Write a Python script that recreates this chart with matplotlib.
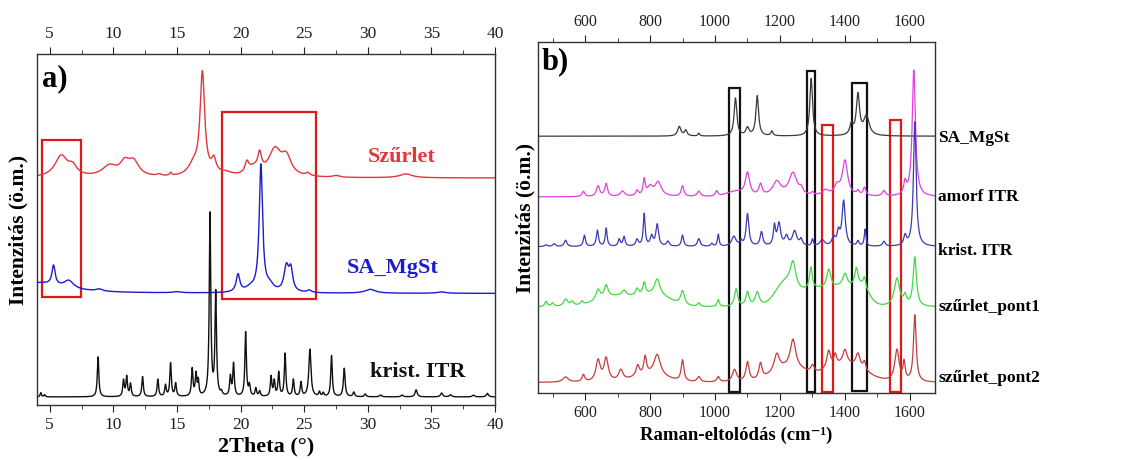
import numpy as np
import matplotlib
matplotlib.use("Agg")
import matplotlib.pyplot as plt
from matplotlib.patches import Rectangle
from matplotlib.ticker import MultipleLocator

plt.rcParams['font.family'] = ['Liberation Serif', 'DejaVu Serif']

############ a) XRD, peaks: (position, height, half width)

xrd_offsets = [64.7, 31.8, 2.3]          # Szűrlet, SA_MgSt, krist. ITR
szurlet_peaks = [(5.9, 6.0, 0.6), (6.8, 2.5, 0.4), (9.7, 3.0, 0.7), (10.9, 3.5, 0.45),
                 (11.6, 4.0, 0.5), (14.5, 0.8, 0.1), (13.6, 0.5, 0.2), (16.3, 3.0, 0.5),
                 (17.0, 29.0, 0.22), (17.9, 4.0, 0.22), (18.8, 1.0, 0.6), (20.5, 3.0, 0.18),
                 (21.0, 2.0, 0.5), (21.5, 5.0, 0.18), (22.7, 7.5, 0.6), (23.6, 5.0, 0.45),
                 (25.3, 0.8, 0.2), (27.5, 0.5, 0.3), (33.0, 1.1, 0.6)]
mgst_peaks = [(4.0, 3.0, 2.5), (5.3, 5.5, 0.15), (6.5, 2.2, 0.45), (8.9, 0.6, 0.3),
              (15.0, 0.3, 0.4), (19.8, 5.0, 0.17), (20.8, 1.2, 0.5), (21.6, 36.0, 0.16),
              (22.3, 1.8, 0.35), (23.6, 7.0, 0.22), (23.95, 6.0, 0.18), (25.4, 0.7, 0.2),
              (30.2, 1.1, 0.5), (35.8, 0.4, 0.4)]
itr_peaks = [(4.3, 1.2, 0.06), (4.6, 0.6, 0.06), (8.8, 11.4, 0.07), (10.8, 4.6, 0.07),
             (11.05, 5.6, 0.07), (11.35, 3.6, 0.07), (12.3, 5.7, 0.07), (13.5, 4.9, 0.07),
             (14.1, 3.2, 0.07), (14.5, 9.5, 0.07), (14.9, 3.7, 0.07), (16.2, 7.8, 0.07),
             (16.5, 6.2, 0.07), (16.68, 4.2, 0.06), (17.6, 52.0, 0.07), (18.05, 29.3, 0.07),
             (18.5, 1.0, 0.07), (19.2, 5.5, 0.07), (19.45, 9.2, 0.07), (20.4, 18.3, 0.07),
             (20.7, 3.0, 0.07), (21.2, 2.3, 0.07), (21.5, 1.5, 0.07), (22.4, 5.6, 0.07),
             (22.65, 4.3, 0.07), (23.0, 6.8, 0.07), (23.5, 12.2, 0.07), (24.15, 4.8, 0.07),
             (24.75, 4.0, 0.07), (25.45, 13.5, 0.1), (26.2, 1.3, 0.07), (26.5, 1.0, 0.07),
             (27.15, 11.7, 0.07), (28.15, 8.1, 0.08), (28.9, 1.3, 0.08), (29.8, 0.8, 0.08),
             (31.0, 0.5, 0.1), (32.7, 0.5, 0.1), (33.8, 2.0, 0.1), (35.8, 1.1, 0.1),
             (36.5, 0.6, 0.1), (38.3, 0.5, 0.1), (39.4, 1.0, 0.1)]
xrd_names = ['Szűrlet', 'SA_MgSt', 'krist. ITR']
xrd_label_xy = [(32.7, 70.7), (32.0, 39.0), (33.9, 9.4)]
xrd_boxes = [(4.37, 7.46, 30.8, 75.5), (18.53, 25.95, 30.2, 83.6)]

############ b) Raman: sharp bands (position, height, half width), broad humps (position, height, sigma)

raman_offsets = [73.2, 55.9, 41.7, 24.5, 3.0]
sa_peaks = [(890, 2.7, 6), (910, 1.6, 5), (950, 0.8, 3), (1063, 10.8, 5), (1100, 2.2, 6),
            (1130, 11.4, 5), (1175, 1.3, 4), (1296, 16.4, 5), (1420, 3.0, 6),
            (1440, 11.5, 6), (1466, 5.5, 10)]
amorf_peaks = [(595, 1.5, 5), (640, 3.0, 6), (665, 3.6, 5), (715, 1.5, 8), (760, 1.5, 5),
               (782, 4.5, 4), (800, 2.5, 10), (825, 4.0, 12), (900, 3.0, 5), (950, 1.5, 6),
               (1005, 1.5, 5), (1100, 6.5, 8), (1140, 3.2, 6), (1190, 4.0, 15),
               (1240, 6.5, 15), (1265, 1.5, 6), (1300, 0.8, 4), (1340, 1.5, 12),
               (1375, 2.5, 10), (1400, 10.0, 10), (1440, 1.2, 5), (1460, 2.3, 5),
               (1520, 1.5, 6), (1585, 3.5, 5), (1612, 36.0, 6)]
amorf_humps = [(1060, 1.3, 25)]
krist_peaks = [(480, 0.5, 5), (505, 0.8, 5), (540, 1.8, 5), (598, 3.2, 4), (638, 4.6, 4),
               (665, 5.2, 3.5), (705, 2.0, 4), (720, 2.7, 4), (760, 1.9, 5), (782, 9.2, 3.5),
               (805, 2.8, 5), (822, 6.2, 5), (855, 1.4, 5), (900, 3.2, 4), (950, 2.2, 5),
               (990, 0.8, 4), (1010, 3.4, 3), (1058, 2.8, 8), (1080, 1.3, 4),
               (1100, 9.2, 5), (1143, 4.0, 5), (1183, 5.5, 4), (1197, 6.3, 6),
               (1220, 2.6, 6), (1245, 4.2, 8), (1265, 1.8, 5), (1300, 1.9, 3),
               (1330, 1.8, 8), (1365, 2.3, 6), (1380, 3.6, 5), (1396, 12.8, 6),
               (1440, 1.4, 4), (1462, 4.8, 3), (1520, 1.4, 5), (1585, 2.8, 5),
               (1615, 35.5, 5)]
pont1_peaks = [(480, 1.5, 5), (500, 1.0, 5), (540, 2.0, 8), (560, 1.2, 6), (590, 1.0, 5),
               (640, 3.0, 8), (665, 3.5, 7), (720, 1.5, 8), (760, 2.0, 6), (782, 3.5, 5),
               (822, 4.5, 10), (900, 4.0, 7), (950, 1.0, 5), (1010, 2.0, 4),
               (1065, 5.0, 6), (1100, 4.0, 6), (1130, 4.0, 8), (1240, 7.0, 10),
               (1295, 6.0, 5), (1350, 5.5, 8), (1400, 3.5, 8), (1435, 5.0, 6),
               (1460, 3.0, 5), (1560, 8.0, 10), (1585, 2.5, 5), (1615, 14.0, 6)]
pont1_humps = [(700, 3.0, 60), (820, 3.0, 45), (1215, 6.5, 30), (1300, 4.5, 40),
               (1400, 5.5, 45), (1455, 3.0, 20)]
pont2_peaks = [(540, 1.5, 10), (595, 2.0, 5), (640, 6.0, 8), (665, 6.5, 8), (710, 3.0, 8),
               (762, 3.0, 6), (785, 5.0, 5), (822, 6.0, 12), (900, 6.0, 5), (950, 1.5, 6),
               (1010, 1.5, 5), (1060, 3.5, 8), (1100, 5.5, 6), (1140, 4.5, 6),
               (1190, 5.0, 10), (1240, 8.0, 10), (1300, 2.0, 6), (1350, 5.0, 7),
               (1370, 3.0, 5), (1400, 4.0, 8), (1440, 4.0, 8), (1460, 2.5, 5),
               (1560, 9.0, 8), (1582, 5.0, 4), (1615, 19.0, 5)]
pont2_humps = [(800, 2.0, 50), (1230, 4.0, 50), (1400, 5.0, 60)]
raman_names = ['SA_MgSt', 'amorf ITR', 'krist. ITR', 'szűrlet_pont1', 'szűrlet_pont2']
raman_label_y = [72.6, 55.8, 40.5, 24.5, 4.3]
black_boxes = [(1043, 1077, 0.4, 87.0), (1282, 1309, 0.4, 91.8), (1423, 1468, 0.6, 88.4)]
red_boxes = [(1330, 1363, 0.4, 76.5), (1538, 1574, 0.4, 77.8)]


def lor(x, c, h, w):
    return h * w**2 / ((x - c)**2 + w**2)


def gau(x, c, h, s):
    return h * np.exp(-0.5 * ((x - c) / s)**2)


def spectrum(x, base, peaks, humps=()):
    y = np.full_like(x, base)
    for c, h, w in peaks:
        y += lor(x, c, h, w)
    for c, h, s in humps:
        y += gau(x, c, h, s)
    return y


fig = plt.figure(figsize=(11.24, 4.61), dpi=100)
axa = fig.add_axes([0.0329, 0.1215, 0.4075, 0.761])
axb = fig.add_axes([0.4786, 0.1475, 0.3532, 0.761])

# ---- panel a
tt = np.linspace(4, 40, 4000)
xrd_cols = ['#e0383c', '#1c1ccc', '#111111']
for peaks, off, col in zip([szurlet_peaks, mgst_peaks, itr_peaks], xrd_offsets, xrd_cols):
    axa.plot(tt, spectrum(tt, off, peaks), color=col, lw=1.0)
for name, (lx, ly), col in zip(xrd_names, xrd_label_xy, xrd_cols):
    axa.text(lx, ly, name, color=col, fontsize=16, fontweight='bold', ha='center', va='center')
for x0, x1, y0, y1 in xrd_boxes:
    axa.add_patch(Rectangle((x0, y0), x1 - x0, y1 - y0, fill=False, ec='#e01818', lw=1.6))
axa.set_xlim(4, 40)
axa.set_ylim(0, 100)
axa.xaxis.set_major_locator(MultipleLocator(5))
axa.xaxis.set_minor_locator(MultipleLocator(2.5))
axa.set_yticks([])
axa.tick_params(axis='x', which='both', direction='out', top=True, labeltop=True,
                labelsize=12.5, colors='#222222')
axa.tick_params(axis='x', which='major', length=5)
axa.tick_params(axis='x', which='minor', length=3)
axa.set_xlabel('2Theta (°)', fontsize=16, fontweight='bold', labelpad=3)
axa.set_ylabel('Intenzitás (ö.m.)', fontsize=15.5, fontweight='bold', labelpad=6)
axa.text(0.012, 0.93, 'a)', transform=axa.transAxes, fontsize=22, fontweight='bold',
         ha='left', va='center')

# ---- panel b
wn = np.linspace(455, 1677, 4000)
raman_cols = ['#3a3a3a', '#e040e0', '#3b3bb5', '#44d844', '#c83c3c']
raman_sets = [(sa_peaks, ()), (amorf_peaks, amorf_humps), (krist_peaks, ()),
              (pont1_peaks, pont1_humps), (pont2_peaks, pont2_humps)]
for (peaks, humps), off, col in zip(raman_sets, raman_offsets, raman_cols):
    axb.plot(wn, spectrum(wn, off, peaks, humps), color=col, lw=0.9)
for name, ly in zip(raman_names, raman_label_y):
    axb.text(1.008, ly, name, transform=axb.get_yaxis_transform(), fontsize=12.5,
             fontweight='bold', ha='left', va='center', clip_on=False)
for x0, x1, y0, y1 in black_boxes:
    axb.add_patch(Rectangle((x0, y0), x1 - x0, y1 - y0, fill=False, ec='#111111', lw=1.6))
for x0, x1, y0, y1 in red_boxes:
    axb.add_patch(Rectangle((x0, y0), x1 - x0, y1 - y0, fill=False, ec='#e01818', lw=1.6))
axb.set_xlim(455, 1677)
axb.set_ylim(0, 100)
axb.xaxis.set_major_locator(MultipleLocator(200))
axb.xaxis.set_minor_locator(MultipleLocator(100))
axb.set_yticks([])
axb.tick_params(axis='x', which='both', direction='out', top=True, labeltop=True,
                labelsize=11.5, colors='#222222')
axb.tick_params(axis='x', which='major', length=5)
axb.tick_params(axis='x', which='minor', length=3)
axb.set_xlabel('Raman-eltolódás (cm⁻¹)', fontsize=13.5, fontweight='bold', labelpad=4)
axb.set_ylabel('Intenzitás (ö.m.)', fontsize=15.5, fontweight='bold', labelpad=2)
axb.text(0.01, 0.945, 'b)', transform=axb.transAxes, fontsize=22, fontweight='bold',
         ha='left', va='center')

for ax in (axa, axb):
    for s in ax.spines.values():
        s.set_linewidth(1.0)
        s.set_color('#333333')

fig.savefig('out.png', dpi=100)
